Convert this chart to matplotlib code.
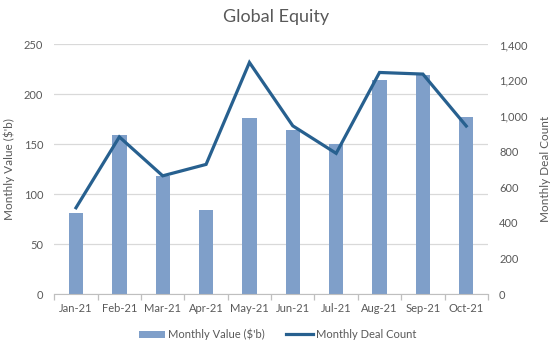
import matplotlib.pyplot as plt
import numpy as np

plt.rcParams['font.family'] = ['Lato', 'DejaVu Sans']

months = ['Jan-21', 'Feb-21', 'Mar-21', 'Apr-21', 'May-21',
          'Jun-21', 'Jul-21', 'Aug-21', 'Sep-21', 'Oct-21']
monthly_value = [81, 159, 118, 84, 176, 164, 150, 214, 219, 177]
deal_count = [485, 882, 664, 728, 1299, 944, 790, 1243, 1234, 943]

bar_color = '#7F9FC9'
line_color = '#27608F'
text_color = '#595959'
grid_color = '#D9D9D9'

fig = plt.figure(figsize=(5.57, 3.5), dpi=100)
ax = fig.add_axes([0.0975, 0.159, 0.7785, 0.714])
ax2 = ax.twinx()

x = np.arange(len(months))
bars = ax.bar(x, monthly_value, width=0.33, color=bar_color, zorder=2,
              label="Monthly Value ($'b)")
line, = ax2.plot(x, deal_count, color=line_color, lw=2.3,
                 solid_joinstyle='miter', zorder=3, label='Monthly Deal Count')

ax.set_xlim(-0.5, len(months) - 0.5)
ax.set_ylim(0, 250)
ax.set_yticks(range(0, 251, 50))
ax2.set_ylim(0, 1400)
ax2.set_yticks(range(0, 1401, 200))
ax2.set_yticklabels([f'{v:,}' for v in range(0, 1401, 200)])

ax.yaxis.grid(True, color=grid_color, lw=0.9, zorder=0)
ax.set_axisbelow(True)

# category boundaries get the tick marks, labels sit in the middle
ax.set_xticks(np.arange(-0.5, len(months), 1.0))
ax.set_xticklabels([])
ax.set_xticks(x, minor=True)
ax.set_xticklabels(months, minor=True)
ax.tick_params(axis='x', which='major', length=4, color='#BFBFBF', width=0.9)
ax.tick_params(axis='x', which='minor', length=0, pad=6)

for a in (ax, ax2):
    for s in ('top', 'left', 'right'):
        a.spines[s].set_visible(False)
    a.spines['bottom'].set_color('#BFBFBF')
    a.tick_params(axis='y', length=0, labelsize=8, labelcolor=text_color)
ax.tick_params(axis='x', which='both', labelsize=8, labelcolor=text_color)
ax.tick_params(axis='y', pad=8)
ax2.tick_params(axis='y', pad=8)
ax2.spines['bottom'].set_visible(False)

ax.set_ylabel("Monthly Value ($'b)", fontsize=8.5, color=text_color)
ax.yaxis.set_label_coords(-0.09, 0.5)
ax2.set_ylabel('Monthly Deal Count', fontsize=8.5, color=text_color)
ax2.yaxis.set_label_coords(1.12, 0.5)

fig.suptitle('Global Equity', x=0.495, y=0.975, fontsize=13, color=text_color)

fig.legend(handles=[bars, line], loc='lower center', bbox_to_anchor=(0.498, 0.0),
           ncol=2, frameon=False, fontsize=8, labelcolor=text_color,
           handlelength=2.4, handleheight=0.6, columnspacing=1.9, handletextpad=0.25)

fig.savefig('out.png', dpi=100)
